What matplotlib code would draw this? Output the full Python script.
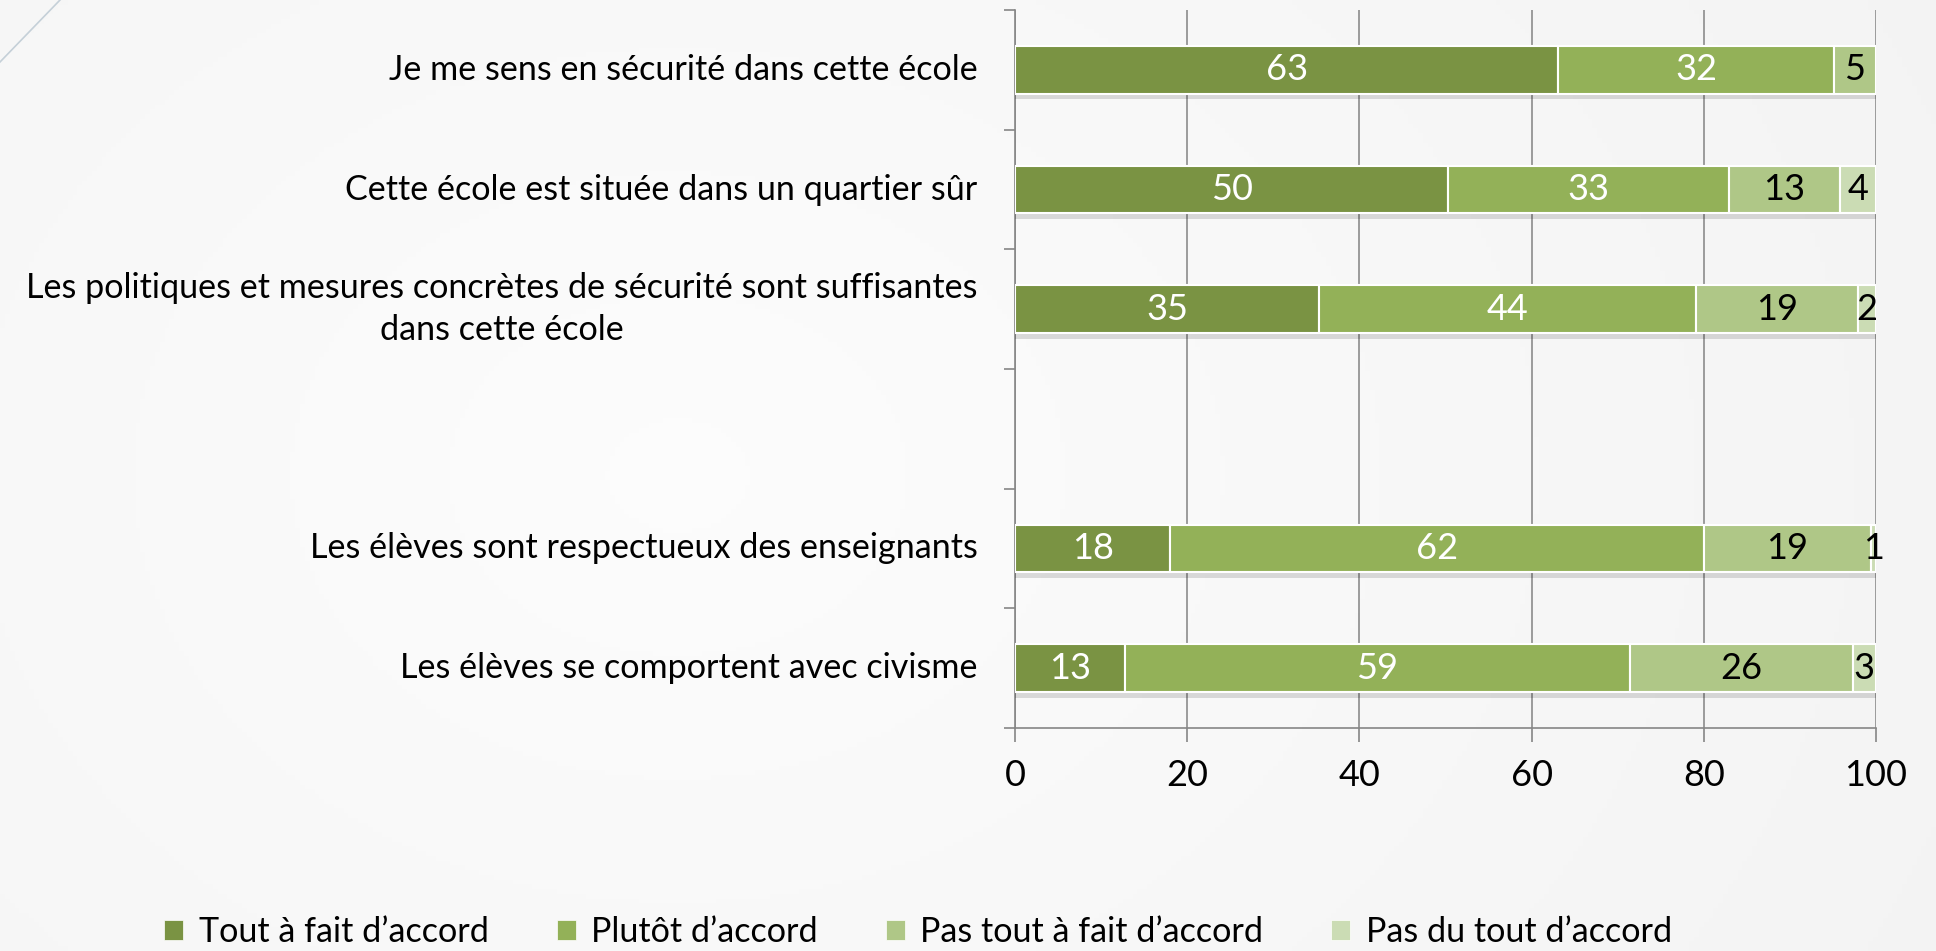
import matplotlib
matplotlib.use("Agg")
import matplotlib.pyplot as plt
import matplotlib.patheffects as pe
from matplotlib.patches import Patch
from matplotlib.lines import Line2D
import numpy as np

plt.rcParams['font.family'] = ['Lato', 'DejaVu Sans']

categories = [
    "Je me sens en sécurité dans cette école",
    "Cette école est située dans un quartier sûr",
    "Les politiques et mesures concrètes de sécurité sont suffisantes\ndans cette école",
    "",
    "Les élèves sont respectueux des enseignants",
    "Les élèves se comportent avec civisme",
]
series_names = ["Tout à fait d’accord", "Plutôt d’accord",
                "Pas tout à fait d’accord", "Pas du tout d’accord"]
tout_a_fait = [63.1, 50.3, 35.3, 0.0, 18.0, 12.8]
plutot = [32.0, 32.6, 43.8, 0.0, 62.0, 58.6]
pas_tout_a_fait = [4.9, 12.9, 18.8, 0.0, 19.4, 25.9]
pas_du_tout = [0.0, 4.2, 2.1, 0.0, 0.6, 2.7]
xticks = [0, 20, 40, 60, 80, 100]

colors = ["#7A9343", "#93B158", "#AFC787", "#CBDCB4"]
text_colors = ["white", "white", "black", "black"]

W, H = 1936, 951
fig = plt.figure(figsize=(W / 100, H / 100), dpi=100)

# background gradient
bg = fig.add_axes([0, 0, 1, 1], zorder=-10)
yy, xx = np.mgrid[0:1:200j, 0:1:400j]
r = np.sqrt(((xx - 0.35) * 1.6) ** 2 + ((yy - 0.5) * 1.0) ** 2)
img = 0.99 - 0.03 * np.clip(r, 0, 1.2)
bg.imshow(np.dstack([img, img, img]), extent=[0, 1, 0, 1], aspect='auto', origin='lower')
bg.set_axis_off()

fig.add_artist(Line2D([0, 60 / W], [1 - 62 / H, 1], color="#C5D0D8", lw=1.2,
                      transform=fig.transFigure))

left, right = 1015 / W, 1876 / W
top, bottom = 1 - 10 / H, 1 - 728 / H
ax = fig.add_axes([left, bottom, right - left, top - bottom])
ax.set_facecolor("none")

n = len(categories)
y = np.arange(n)
data = [tout_a_fait, plutot, pas_tout_a_fait, pas_du_tout]
lefts = np.zeros(n)
shadow = [pe.SimplePatchShadow(offset=(0, -4), shadow_rgbFace="#000000", alpha=0.13), pe.Normal()]
for si, vals in enumerate(data):
    v = np.array(vals, dtype=float)
    idx = np.nonzero(v > 0)[0]
    bars = ax.barh(y[idx], v[idx], left=lefts[idx], height=0.4, color=colors[si],
                   edgecolor="white", linewidth=1.5, zorder=3)
    for b in bars:
        b.set_path_effects(shadow)
    for i in idx:
        ax.text(lefts[i] + v[i] / 2, y[i], f"{round(v[i]):d}", ha="center", va="center",
                color=text_colors[si], fontsize=26, zorder=4)
    lefts = lefts + v

ax.set_xlim(0, 100)
ax.set_ylim(n - 0.5, -0.5)
ax.set_xticks(xticks)
ax.set_xticklabels([str(t) for t in xticks], fontsize=26)
ax.set_yticks(y)
ax.set_yticklabels(categories, fontsize=24.6, linespacing=1.4)
for lab in ax.get_yticklabels():
    lab.set_multialignment("center")
    lab.set_verticalalignment("center")
ax.set_yticks(np.arange(-0.5, n, 1), minor=True)
ax.tick_params(axis='y', which='major', length=0, pad=27)
ax.tick_params(axis='y', which='minor', length=8, color="#868686", width=1.2)
ax.tick_params(axis='x', length=10, color="#868686", width=1.2, pad=12)
ax.grid(axis='x', color="#8C8C8C", lw=1.2, zorder=0)
for s in ["top", "right"]:
    ax.spines[s].set_visible(False)
for s in ["left", "bottom"]:
    ax.spines[s].set_color("#868686")
    ax.spines[s].set_linewidth(1.2)

handles = [Patch(facecolor=c, edgecolor="white", linewidth=0.5) for c in colors]
fig.legend(handles, series_names, loc="center", bbox_to_anchor=(918 / W, 1 - 932 / H),
           ncol=4, frameon=False, fontsize=24.6, handlelength=0.55, handleheight=0.55,
           handletextpad=0.45, columnspacing=2.0, borderpad=0, borderaxespad=0)

fig.savefig("out.png", dpi=100)
